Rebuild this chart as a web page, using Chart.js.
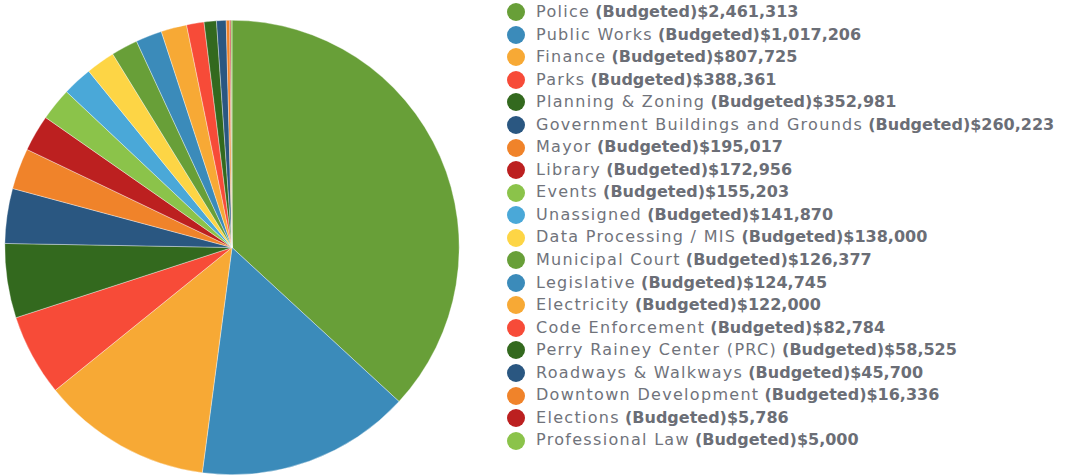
<!DOCTYPE html>
<html>
<head>
<meta charset="utf-8">
<script src="https://cdn.jsdelivr.net/npm/chart.js@4/dist/chart.umd.min.js"></script>
<style>
html,body{margin:0;padding:0;background:#fff;overflow:hidden;}
#wrap{position:relative;width:1065px;height:475px;}
#pieBox{position:absolute;left:0;top:20px;width:464px;height:455px;}
#legend{position:absolute;left:507px;top:1px;margin:0;padding:0;list-style:none;
  font-family:"DejaVu Sans",sans-serif;font-size:16px;color:#6b6e76;}
#legend li{height:22.55px;line-height:22.55px;white-space:nowrap;display:flex;align-items:center;}
#legend .dot{display:inline-block;width:18px;height:18px;border-radius:50%;margin-right:11px;flex:none;}
#legend .name{letter-spacing:1.3px;color:#70737b;}
#legend b{font-weight:bold;letter-spacing:0;}
</style>
</head>
<body>
<div id="wrap">
  <div id="pieBox"><canvas id="budgetPie"></canvas></div>
  <ul id="legend"></ul>
</div>
<script>
const departments = ['Police','Public Works','Finance','Parks','Planning & Zoning','Government Buildings and Grounds','Mayor','Library','Events','Unassigned','Data Processing / MIS','Municipal Court','Legislative','Electricity','Code Enforcement','Perry Rainey Center (PRC)','Roadways & Walkways','Downtown Development','Elections','Professional Law'];
const budgeted = [2461313,1017206,807725,388361,352981,260223,195017,172956,155203,141870,138000,126377,124745,122000,82784,58525,45700,16336,5786,5000];
const palette = ['#689f38','#3b8bba','#f7a935','#f74b38','#33691e','#2a5781','#f0832a','#bc2020','#8bc34a','#4aa8d8','#fdd545'];
const colors = departments.map((d,i)=>palette[i%palette.length]);

function fmt(n){return '$'+Number(n).toLocaleString('en-US');}

new Chart(document.querySelector('#budgetPie'),{
  type:'pie',
  data:{labels:departments,datasets:[{data:budgeted,backgroundColor:colors,borderColor:'rgba(255,255,255,0.6)',borderWidth:0.6}]},
  options:{responsive:true,maintainAspectRatio:false,animation:false,
    layout:{padding:0},
    plugins:{legend:{display:false},tooltip:{enabled:false}}}
});

// legend rows: regular name, bold budget figure
document.querySelector('#legend').innerHTML=departments.map((d,i)=>
  `<li><span class="dot" style="background:${colors[i]}"></span><span class="name">${d}</span>&nbsp;<b>(Budgeted)${fmt(budgeted[i])}</b></li>`).join('');
</script>
</body>
</html>
